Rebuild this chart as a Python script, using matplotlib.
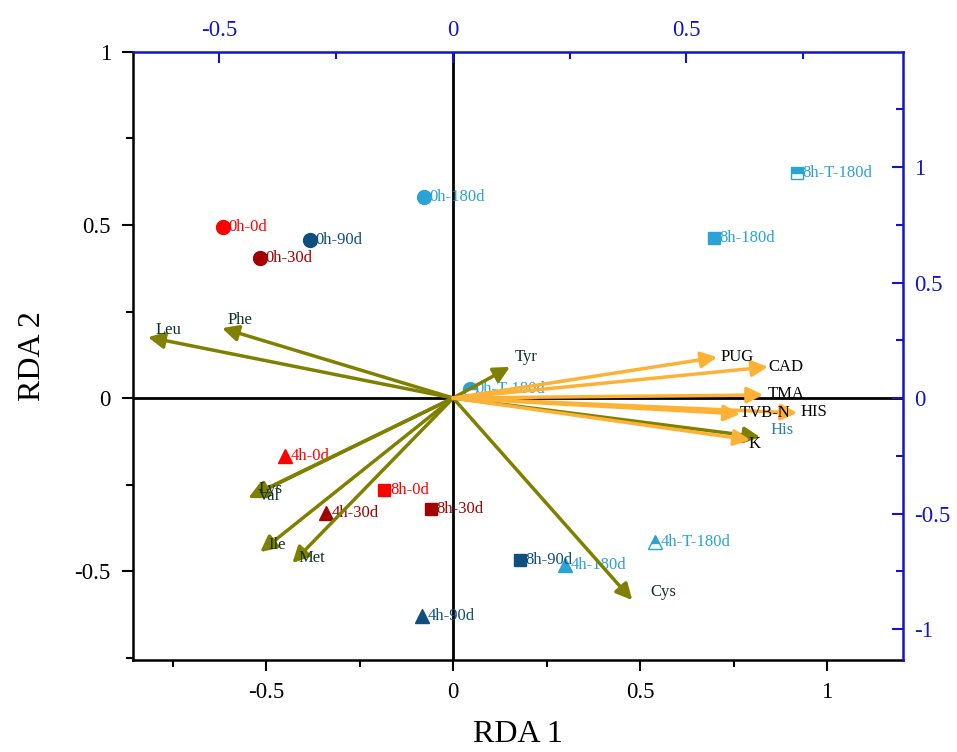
import numpy as np
import matplotlib
matplotlib.use('Agg')
import matplotlib.pyplot as plt
from matplotlib.ticker import MultipleLocator

plt.rcParams['font.family'] = ['Liberation Serif', 'DejaVu Serif']
plt.rcParams['axes.unicode_minus'] = False

# samples (RDA1, RDA2)
samples = ['0h-0d', '0h-30d', '0h-90d', '0h-180d', '0h-T-180d',
           '4h-0d', '4h-30d', '4h-90d', '4h-180d', '4h-T-180d',
           '8h-0d', '8h-30d', '8h-90d', '8h-180d', '8h-T-180d']
sx = [-0.615, -0.516, -0.382, -0.078, 0.045,
      -0.449, -0.340, -0.083, 0.299, 0.540,
      -0.184, -0.059, 0.179, 0.698, 0.920]
sy = [0.494, 0.405, 0.457, 0.581, 0.026,
      -0.168, -0.332, -0.630, -0.483, -0.416,
      -0.266, -0.321, -0.468, 0.462, 0.650]

RED, DRED, DBLUE, LBLUE = '#FF0000', '#A30000', '#0E4F7D', '#2BA3D4'
s_colors = [RED, DRED, DBLUE, LBLUE, LBLUE] * 3
s_markers = ['o'] * 5 + ['^'] * 5 + ['s'] * 5
s_half = [False, False, False, False, True] * 3

# amino acid vectors (olive)
aa = ['Leu', 'Phe', 'Tyr', 'Lys', 'Val', 'Ile', 'Met', 'Cys', 'His']
aa_x = [-0.816, -0.618, 0.152, -0.548, -0.540, -0.516, -0.430, 0.479, 0.821]
aa_y = [0.176, 0.202, 0.090, -0.289, -0.283, -0.445, -0.477, -0.584, -0.113]
aa_lx = [-0.797, -0.602, 0.166, -0.521, -0.521, -0.495, -0.414, 0.527, 0.848]
aa_ly = [0.197, 0.225, 0.118, -0.263, -0.283, -0.425, -0.462, -0.561, -0.092]

# quality indices (orange)
qi = ['PUG', 'CAD', 'TMA', 'TVB-N', 'HIS', 'K']
qi_x = [0.706, 0.842, 0.829, 0.767, 0.920, 0.794]
qi_y = [0.118, 0.090, 0.009, -0.046, -0.043, -0.121]
qi_lx = [0.714, 0.842, 0.840, 0.767, 0.928, 0.789]
qi_ly = [0.118, 0.090, 0.012, -0.043, -0.040, -0.133]

OLIVE = '#808000'
ORANGE = '#FDB236'
AXBLUE = '#1414C8'

fig = plt.figure(figsize=(9.57, 7.52), dpi=100)
ax = fig.add_axes([0.139, 0.1223, 0.8046, 0.8086])
ax.set_xlim(-0.856, 1.203)
ax.set_ylim(-0.757, 1.0)

ax.axhline(0, color='black', lw=2, zorder=1)
ax.axvline(0, color='black', lw=2, zorder=1)

for i, name in enumerate(samples):
    kw = dict(marker=s_markers[i], color=s_colors[i], ms=10 if s_markers[i] != 's' else 9,
              linestyle='none', markeredgecolor=s_colors[i], zorder=3)
    if s_half[i]:
        kw.update(fillstyle='top', markerfacecoloralt='white', markeredgewidth=1)
    ax.plot(sx[i], sy[i], **kw)
    ax.annotate(name, (sx[i], sy[i]), xytext=(4, 0), textcoords='offset points',
                va='center', ha='left', color=s_colors[i], fontsize=12, zorder=3)

for i, name in enumerate(aa):
    ax.annotate('', xy=(aa_x[i], aa_y[i]), xytext=(0, 0),
                arrowprops=dict(arrowstyle='-|>', color=OLIVE, lw=2.5, mutation_scale=24,
                                shrinkA=0, shrinkB=0), zorder=4)
    tc = '#2A7F9E' if name == 'His' else '#0F3326'
    ax.text(aa_lx[i], aa_ly[i], name, color=tc, fontsize=12, ha='left', va='center', zorder=5)

for i, name in enumerate(qi):
    ax.annotate('', xy=(qi_x[i], qi_y[i]), xytext=(0, 0),
                arrowprops=dict(arrowstyle='-|>', color=ORANGE, lw=2.5, mutation_scale=24,
                                shrinkA=0, shrinkB=0), zorder=4)
    ax.text(qi_lx[i], qi_ly[i], name, color='black', fontsize=12, ha='left', va='center', zorder=5)

ax.set_xlabel('RDA 1', fontsize=23, labelpad=12)
ax.set_ylabel('RDA 2', fontsize=23, labelpad=20)
ax.xaxis.set_major_locator(MultipleLocator(0.5))
ax.xaxis.set_minor_locator(MultipleLocator(0.25))
ax.yaxis.set_major_locator(MultipleLocator(0.5))
ax.yaxis.set_minor_locator(MultipleLocator(0.25))
ax.xaxis.set_major_formatter(plt.FuncFormatter(lambda v, p: '%g' % v))
ax.yaxis.set_major_formatter(plt.FuncFormatter(lambda v, p: '%g' % v))
ax.tick_params(which='major', direction='out', length=8, width=1.5, labelsize=16.5, pad=8)
ax.tick_params(which='minor', direction='out', length=5, width=1.5)
ax.spines['top'].set_visible(False)
ax.spines['right'].set_visible(False)
for s in ['left', 'bottom']:
    ax.spines[s].set_linewidth(1.8)

# top axis (blue)
axt = ax.twiny()
axt.set_xlim(-0.685, 0.964)
axt.xaxis.set_major_locator(MultipleLocator(0.5))
axt.xaxis.set_minor_locator(MultipleLocator(0.25))
axt.xaxis.set_major_formatter(plt.FuncFormatter(lambda v, p: '%g' % v))
axt.tick_params(which='major', direction='in', length=8, width=1.5, colors=AXBLUE, labelsize=16.5, pad=8)
axt.tick_params(which='minor', direction='in', length=5, width=1.5, colors=AXBLUE)
for s in ['left', 'right', 'bottom']:
    axt.spines[s].set_visible(False)
axt.spines['top'].set_color(AXBLUE)
axt.spines['top'].set_linewidth(1.8)

# right axis (blue)
axr = ax.twinx()
axr.set_ylim(-1.134, 1.498)
axr.yaxis.set_major_locator(MultipleLocator(0.5))
axr.yaxis.set_minor_locator(MultipleLocator(0.25))
axr.yaxis.set_major_formatter(plt.FuncFormatter(lambda v, p: '%g' % v))
axr.tick_params(which='major', direction='in', length=8, width=1.5, colors=AXBLUE, labelsize=16.5, pad=8)
axr.tick_params(which='minor', direction='in', length=5, width=1.5, colors=AXBLUE)
for s in ['left', 'top', 'bottom']:
    axr.spines[s].set_visible(False)
axr.spines['right'].set_color(AXBLUE)
axr.spines['right'].set_linewidth(1.8)

fig.savefig('out.png', dpi=100)
